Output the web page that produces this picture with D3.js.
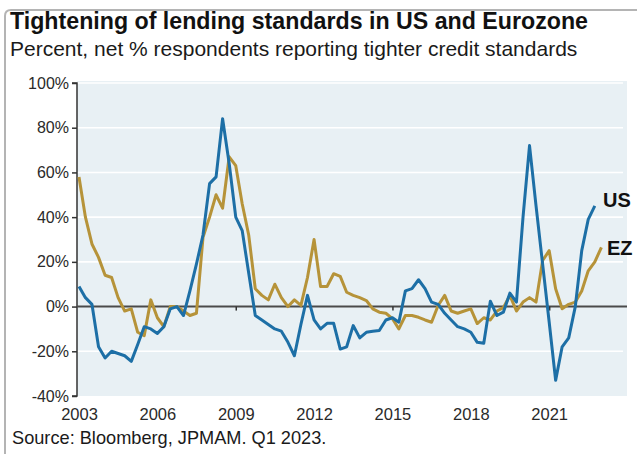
<!DOCTYPE html>
<html>
<head>
<meta charset="utf-8">
<script src="https://cdn.jsdelivr.net/npm/d3@7"></script>
<style>
  html, body { margin: 0; padding: 0; background: #ffffff; }
  svg { display: block; font-family: "Liberation Sans", Arial, sans-serif; }
</style>
</head>
<body>
<svg id="chart" width="637" height="454"></svg>
<script>
// ---- Data (quarterly, starting 2003 Q1) ----
const startYear = 2003;
const usValues = [
  9, 4, 1, -18, -23, -20, -21, -22, -24.5, -17,
  -9, -10, -12, -9, -1, 0, -4, 7, 19, 32,
  55, 58, 84, 64, 40, 34, 15, -4, -6, -8,
  -10, -11, -16, -22, -8, 5, -6, -10, -7.5, -7.5,
  -19, -18, -8.5, -14, -11.5, -11, -10.7, -6, -5, -7,
  7, 8, 12, 8, 2, 1, -3, -6, -9, -10,
  -11.5, -16, -16.4, 2.4, -4, -2.5, 6, 2, 40, 72,
  45, 19, -7, -33, -18, -14, 0, 25, 39, 45
];
const ezValues = [
  58, 40, 28, 22, 14, 13, 4, -2, -1, -11.5,
  -13, 3, -5, -9, 0, 0, -2, -4, -3, 31,
  40, 50, 44, 67, 63, 46, 32, 8, 5, 3,
  10, 4, 0, 3, 0.5, 13, 30, 9, 9, 14.7,
  13.5, 6.4, 5, 4, 2.7, -1, -2.5, -3, -5.4, -10,
  -4, -4, -4.8, -6, -7, 0.5, 5, -2, -3, -2,
  -1, -7.6, -5, -6, -2, -0.5, 5, -2, 2, 4,
  2, 20.6, 25, 8, -1, 1, 2, 7, 16, 20, 26.5
];
const seriesNames = ["US", "EZ"];
const yTickValues = [-40, -20, 0, 20, 40, 60, 80, 100];
const xLabelYears = [2003, 2006, 2009, 2012, 2015, 2018, 2021];
const xTickYears = [2009, 2015, 2021];
const titleText = "Tightening of lending standards in US and Eurozone";
const subtitleText = "Percent, net % respondents reporting tighter credit standards";
const sourceText = "Source: Bloomberg, JPMAM. Q1 2023.";

// ---- Layout / style ----
const colors = { US: "#1d6fa6", EZ: "#b69339" };
const plot = { left: 77, right: 627, top: 81, bottom: 396 };

const svg = d3.select("#chart");

const qDate = i => new Date(startYear, 3 * i, 1);
const x = d3.scaleTime()
  .domain([new Date(startYear, 0, 1), new Date(2023, 0, 1)])
  .range([79, 601.4]);
const y = d3.scaleLinear().domain([-40, 100]).range([396, 83]);

// frame border (top + left)
svg.append("path")
  .attr("d", `M5,454 L5,16 Q5,10 11,10 L637,10`)
  .attr("fill", "none")
  .attr("stroke", "#b4b4b4")
  .attr("stroke-width", 2);

// title & subtitle
svg.append("text").attr("x", 10).attr("y", 29)
  .attr("font-size", 23.2).attr("font-weight", "bold").attr("fill", "#111")
  .text(titleText);
svg.append("text").attr("x", 10).attr("y", 56)
  .attr("font-size", 21).attr("fill", "#1a1a1a")
  .text(subtitleText);

// plot background
svg.append("rect")
  .attr("x", plot.left).attr("y", plot.top)
  .attr("width", plot.right - plot.left).attr("height", plot.bottom - plot.top)
  .attr("fill", "#e8f0f4");

// gridlines
svg.append("g").selectAll("line")
  .data(yTickValues.filter(v => v !== 0 && v !== -40))
  .join("line")
  .attr("x1", plot.left).attr("x2", plot.right - 4)
  .attr("y1", d => y(d)).attr("y2", d => y(d))
  .attr("stroke", "#ffffff").attr("stroke-width", 1.6);

// y axis
const yAxis = d3.axisLeft(y).tickValues(yTickValues)
  .tickFormat(d => d + "%").tickSize(5).tickPadding(3);
const yg = svg.append("g").attr("transform", `translate(${plot.left},0)`).call(yAxis);
yg.select(".domain").attr("stroke", "#333").attr("stroke-width", 1.5)
  .attr("d", `M-5,${y(100)}H0V${y(-40)}H-5`);
yg.selectAll(".tick line").attr("stroke", "#333").attr("stroke-width", 1.5);
yg.selectAll(".tick text").attr("font-size", 16).attr("fill", "#2a2a2a")
  .attr("font-family", "Liberation Sans, Arial, sans-serif");

// zero line with small ticks
const zeroAxis = d3.axisBottom(x)
  .tickValues(xTickYears.map(yr => new Date(yr, 0, 1)))
  .tickSize(4).tickFormat("");
const zg = svg.append("g").attr("transform", `translate(0,${y(0)})`).call(zeroAxis);
zg.select(".domain").attr("stroke", "#4a4a4a").attr("stroke-width", 2)
  .attr("d", `M${plot.left},0H${plot.right}`);
zg.selectAll(".tick line").attr("stroke", "#333").attr("stroke-width", 1.5);

// x labels below plot
const xAxis = d3.axisBottom(x)
  .tickValues(xLabelYears.map(yr => new Date(yr, 0, 1)))
  .tickFormat(d3.timeFormat("%Y")).tickSize(0).tickPadding(0);
const xg = svg.append("g").attr("transform", `translate(0,${plot.bottom + 24})`).call(xAxis);
xg.select(".domain").remove();
xg.selectAll(".tick text").attr("font-size", 16.5).attr("fill", "#2a2a2a")
  .attr("dy", 0).attr("font-family", "Liberation Sans, Arial, sans-serif");

// lines
const line = d3.line()
  .x((d, i) => x(qDate(i)))
  .y(d => y(d));

const seriesData = { US: usValues, EZ: ezValues };
// draw EZ first, US on top
["EZ", "US"].forEach(name => {
  svg.append("path")
    .datum(seriesData[name])
    .attr("d", line)
    .attr("fill", "none")
    .attr("stroke", colors[name])
    .attr("stroke-width", 3)
    .attr("stroke-linejoin", "round");
});

// series labels
svg.append("text").attr("x", 603).attr("y", 207)
  .attr("font-size", 20).attr("font-weight", "bold").attr("fill", "#111")
  .text(seriesNames[0]);
svg.append("text").attr("x", 607).attr("y", 255)
  .attr("font-size", 20).attr("font-weight", "bold").attr("fill", "#111")
  .text(seriesNames[1]);

// source
svg.append("text").attr("x", 12).attr("y", 444)
  .attr("font-size", 18.2).attr("fill", "#1a1a1a")
  .text(sourceText);
</script>
</body>
</html>
